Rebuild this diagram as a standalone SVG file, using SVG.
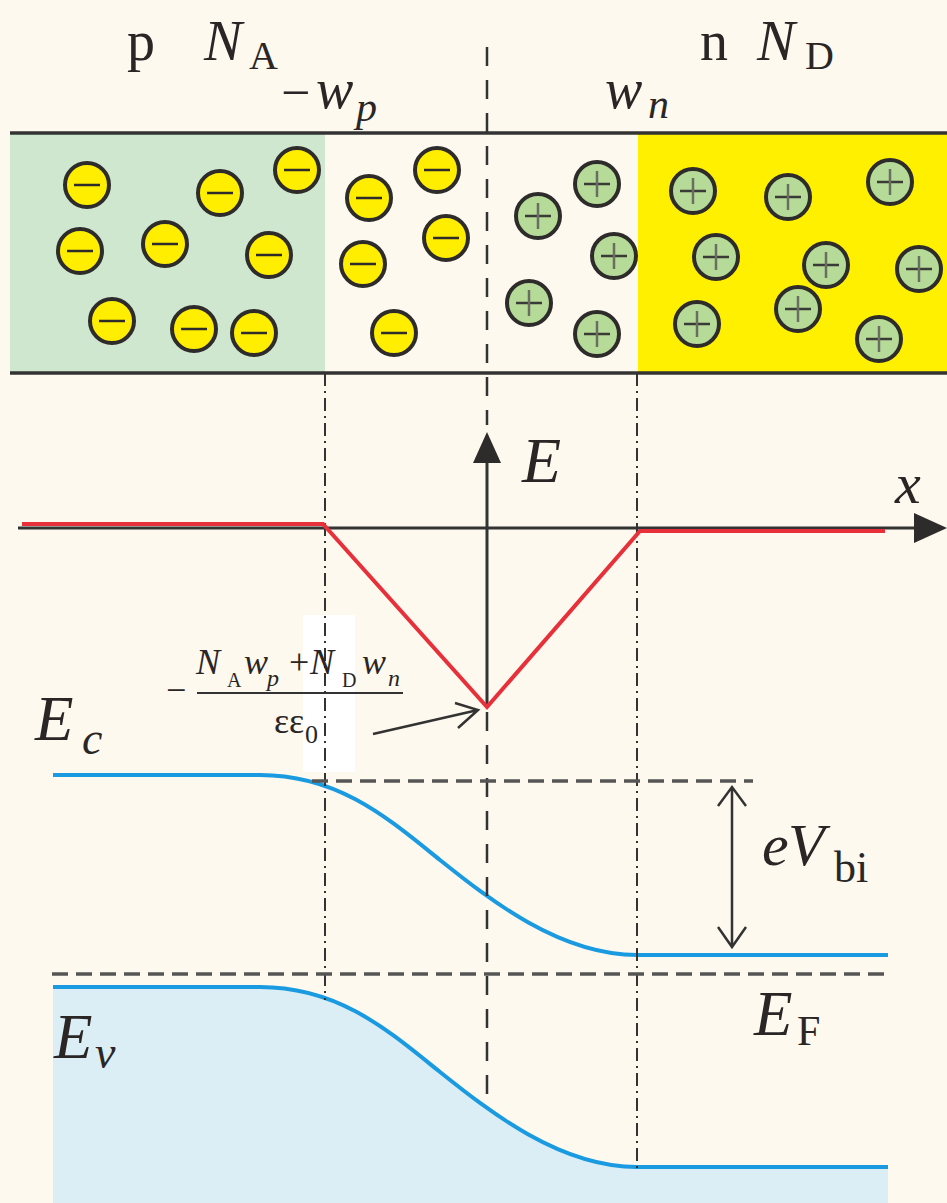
<svg xmlns="http://www.w3.org/2000/svg" width="947" height="1203" viewBox="0 0 947 1203">
<defs>
<style>
.t{font-family:"Liberation Serif","Times New Roman",serif;fill:#2a2626}
.i{font-style:italic}
.dashv{stroke:#333;stroke-width:2.5;stroke-dasharray:19 14;fill:none}
.dashh{stroke:#555;stroke-width:3.5;stroke-dasharray:16 8;fill:none}
.dd{stroke:#333;stroke-width:2;stroke-dasharray:13 5 2 5;fill:none}
.blue{stroke:#1a9ae0;stroke-width:4;fill:none}
</style>
<g id="minus"><circle r="22" fill="#ffee00" stroke="#2e2b2b" stroke-width="4"/><line x1="-13" y1="0" x2="13" y2="0" stroke="#2e2b2b" stroke-width="2.5"/></g>
<g id="plus"><circle r="22" fill="#b6da98" stroke="#2e2b2b" stroke-width="4"/><line x1="-13" y1="0" x2="13" y2="0" stroke="#3a3a36" stroke-width="2.5"/><line x1="0" y1="-13" x2="0" y2="13" stroke="#6a6d62" stroke-width="2.5"/></g>
</defs>
<rect width="947" height="1203" fill="#fdf9ef"/>

<g id="regions">
<rect x="10" y="134" width="315" height="238" fill="#cfe6cf"/>
<rect x="638" y="134" width="309" height="238" fill="#fff000"/>
<line x1="10" y1="133" x2="947" y2="133" stroke="#333" stroke-width="3.5"/>
<line x1="10" y1="373" x2="947" y2="373" stroke="#333" stroke-width="3.5"/>
</g>

<g id="neg-ions">
<use href="#minus" x="87" y="185"/>
<use href="#minus" x="220" y="193"/>
<use href="#minus" x="297" y="170"/>
<use href="#minus" x="80" y="251"/>
<use href="#minus" x="165" y="244"/>
<use href="#minus" x="269" y="255"/>
<use href="#minus" x="112" y="321"/>
<use href="#minus" x="194" y="329"/>
<use href="#minus" x="254" y="333"/>
<use href="#minus" x="369" y="198"/>
<use href="#minus" x="437" y="170"/>
<use href="#minus" x="446" y="238"/>
<use href="#minus" x="363" y="264"/>
<use href="#minus" x="394" y="333"/>
</g>

<g id="pos-ions">
<use href="#plus" x="538" y="216"/>
<use href="#plus" x="597" y="184"/>
<use href="#plus" x="614" y="256"/>
<use href="#plus" x="529" y="303"/>
<use href="#plus" x="597" y="334"/>
<use href="#plus" x="693" y="191"/>
<use href="#plus" x="788" y="197"/>
<use href="#plus" x="890" y="182"/>
<use href="#plus" x="716" y="257"/>
<use href="#plus" x="826" y="265"/>
<use href="#plus" x="919" y="269"/>
<use href="#plus" x="697" y="324"/>
<use href="#plus" x="798" y="309"/>
<use href="#plus" x="879" y="339"/>
</g>

<g id="bands">
<path d="M53,987 L260,987 C340,987 390,1032 440,1072 C490,1112 560,1167 637,1167 L888,1167 L888,1203 L53,1203 Z" fill="#dbeef5"/>
<path class="blue" d="M53,775 L260,775 C340,775 390,820 440,860 C490,900 560,955 637,955 L888,955"/>
<path class="blue" d="M53,987 L260,987 C340,987 390,1032 440,1072 C490,1112 560,1167 637,1167 L888,1167"/>
</g>

<g id="mask"><rect x="303" y="615" width="52" height="157" fill="#ffffff"/></g>

<g id="connectors">
<line class="dashv" x1="487" y1="47" x2="487" y2="425"/>
<line class="dashv" x1="487" y1="712" x2="487" y2="1097"/>
<line class="dd" x1="325" y1="373" x2="325" y2="1000"/>
<line class="dd" x1="637" y1="373" x2="637" y2="1170"/>
<line class="dashh" x1="312" y1="781" x2="753" y2="781"/>
<line class="dashh" x1="52" y1="974" x2="890" y2="974"/>
<line x1="18" y1="528" x2="920" y2="528" stroke="#333" stroke-width="3"/>
<path d="M947,528 L914,513 L914,543 Z" fill="#2e2b2b"/>
<line x1="487" y1="460" x2="487" y2="708" stroke="#333" stroke-width="3"/>
<path d="M487,432 L473,463 L501,463 Z" fill="#2e2b2b"/>
<path d="M22,524 L323,524 L487,707 L640,531 L885,531" fill="none" stroke="#e8303a" stroke-width="4"/>
<path d="M373,734 L478,710 M455,703 L478,710 L458,728" fill="none" stroke="#333" stroke-width="2.5"/>
<path d="M732,787 L732,947 M718,806 L732,787 L746,806 M718,927 L732,947 L746,927" fill="none" stroke="#333" stroke-width="2.5"/>
</g>

<g id="labels">
<text class="t" x="127" y="60" font-size="56">p</text>
<text class="t i" x="204" y="60" font-size="57">N</text>
<text class="t" x="249" y="69" font-size="40">A</text>
<text class="t" x="700" y="60" font-size="56">n</text>
<text class="t i" x="757" y="60" font-size="57">N</text>
<text class="t" x="805" y="69" font-size="40">D</text>
<text class="t" x="281" y="110" font-size="52">−</text>
<text class="t i" x="316" y="108" font-size="56">w</text>
<text class="t i" x="356" y="121" font-size="42">p</text>
<text class="t i" x="605" y="108" font-size="56">w</text>
<text class="t i" x="648" y="118" font-size="42">n</text>
<text class="t i" x="522" y="482" font-size="64">E</text>
<text class="t i" x="895" y="503" font-size="58">x</text>
<text class="t" x="166" y="702" font-size="36">−</text>
<line x1="197" y1="693" x2="403" y2="693" stroke="#333" stroke-width="2"/>
<text class="t i" x="196" y="674" font-size="36">N</text>
<text class="t" x="227" y="687" font-size="20">A</text>
<text class="t i" x="244" y="674" font-size="36">w</text>
<text class="t i" x="267" y="686" font-size="24">p</text>
<text class="t" x="289" y="674" font-size="36">+</text>
<text class="t i" x="310" y="674" font-size="36">N</text>
<text class="t" x="342" y="687" font-size="20">D</text>
<text class="t i" x="362" y="674" font-size="36">w</text>
<text class="t i" x="388" y="686" font-size="24">n</text>
<text class="t" x="274" y="733" font-size="36">εε</text>
<text class="t" x="305" y="743" font-size="26">0</text>
<text class="t i" x="762" y="865" font-size="60">e</text>
<text class="t i" x="788" y="865" font-size="60">V</text>
<text class="t" x="834" y="882" font-size="44">bi</text>
<text class="t i" x="754" y="1035" font-size="63">E</text>
<text class="t" x="797" y="1045" font-size="42">F</text>
<text class="t i" x="35" y="740" font-size="63">E</text>
<text class="t i" x="82" y="754" font-size="46">c</text>
<text class="t i" x="54" y="1058" font-size="63">E</text>
<text class="t i" x="95" y="1068" font-size="46">v</text>
</g>
</svg>
